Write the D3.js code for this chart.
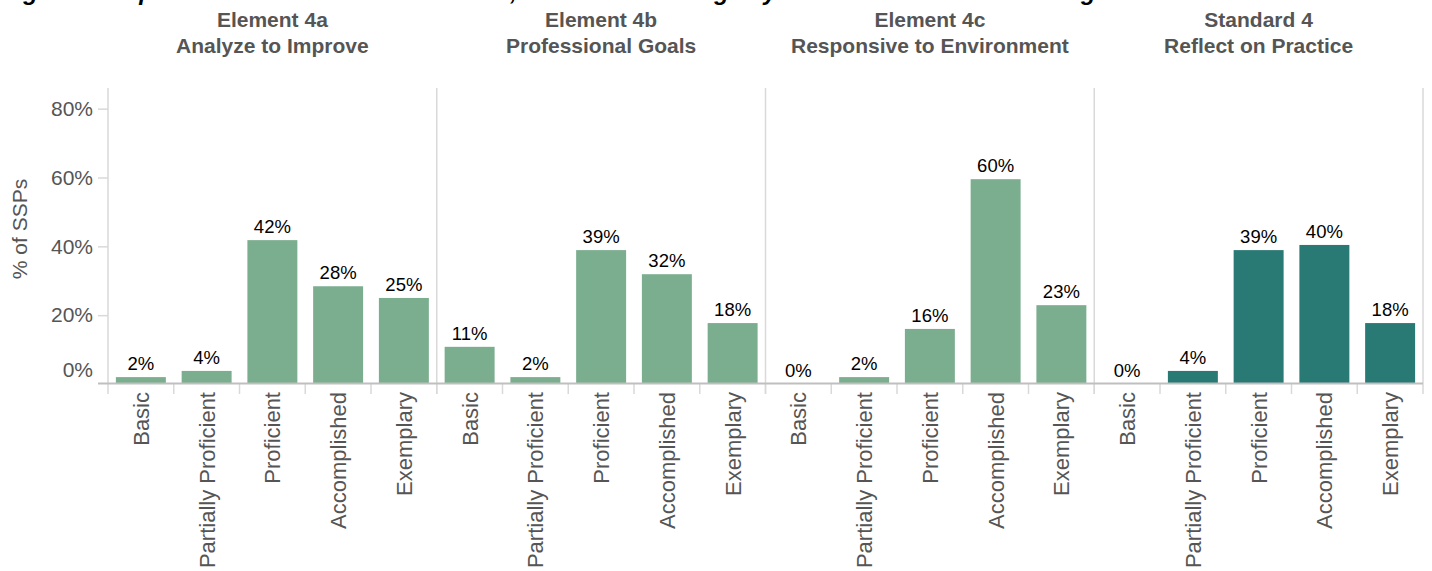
<!DOCTYPE html>
<html>
<head>
<meta charset="utf-8">
<script src="https://cdn.jsdelivr.net/npm/d3@7"></script>
<style>
  html, body { margin: 0; padding: 0; background: #fff; }
  svg { display: block; font-family: "Liberation Sans", Arial, sans-serif; }
</style>
</head>
<body>
<svg id="chart" width="1432" height="571"></svg>
<script>
// ---- Data ----
const chartTitle = "Figure 12: Specialized Service Professionals, Standard 4 Ratings by Element and Overall Rating";
const panelLine1 = ["Element 4a", "Element 4b", "Element 4c", "Standard 4"];
const panelLine2 = ["Analyze to Improve", "Professional Goals", "Responsive to Environment", "Reflect on Practice"];
const categories = ["Basic", "Partially Proficient", "Proficient", "Accomplished", "Exemplary"];
const values4a = [2.0, 3.8, 41.8, 28.4, 25.0];
const values4b = [10.8, 2.0, 38.9, 31.9, 17.7];
const values4c = [0.0, 2.0, 16.0, 59.5, 22.9];
const valuesStd4 = [0.0, 3.8, 38.9, 40.4, 17.7];
const panelValues = [values4a, values4b, values4c, valuesStd4];
const panelColors = ["#7bae8f", "#7bae8f", "#7bae8f", "#297975"];
const yTicks = [0, 20, 40, 60, 80];

// ---- Layout ----
const svg = d3.select("#chart");
const plotLeft = 108, plotRight = 1423, plotTop = 88, plotBottom = 384;
const gridColor = "#d9d9d9", axisColor = "#bfbfbf", textGray = "#555555";

const panelScale = d3.scaleBand()
  .domain(d3.range(panelLine1.length))
  .range([plotLeft, plotRight])
  .paddingInner(0).paddingOuter(0);
const pw = panelScale.bandwidth();

const y = d3.scaleLinear().domain([0, 86]).range([plotBottom, plotTop]);

// title (clipped by top edge in the reference)
svg.append("text")
  .attr("x", 2).attr("y", 0)
  .attr("font-size", 24).attr("font-weight", "bold").attr("font-style", "italic")
  .attr("fill", "#000")
  .text(chartTitle);

// Y axis
const yAxis = d3.axisLeft(y).tickValues(yTicks).tickFormat(d => d + "%").tickSize(10).tickPadding(5);
const gy = svg.append("g").attr("transform", `translate(${plotLeft},0)`).call(yAxis);
gy.select(".domain").remove();
gy.selectAll(".tick line").attr("stroke", gridColor).attr("stroke-width", 1.5);
gy.selectAll(".tick text").attr("font-size", 21).attr("fill", textGray)
  .attr("font-family", "Liberation Sans, Arial, sans-serif");
gy.selectAll(".tick").filter(d => d === 0).select("text").attr("dy", "-0.35em");
gy.selectAll(".tick").filter(d => d === 0).select("line").remove();

// Y title
svg.append("text")
  .attr("transform", `translate(27,${(plotTop + plotBottom) / 2 - 7}) rotate(-90)`)
  .attr("text-anchor", "middle")
  .attr("font-size", 21).attr("fill", textGray)
  .text("% of SSPs");

// panel dividers (left edges + right end)
const dividerXs = panelScale.domain().map(i => panelScale(i)).concat([plotRight]);
svg.append("g").selectAll("line").data(dividerXs).join("line")
  .attr("x1", d => d).attr("x2", d => d)
  .attr("y1", plotTop).attr("y2", plotBottom)
  .attr("stroke", gridColor).attr("stroke-width", 1.5);

// panels
panelValues.forEach((vals, pi) => {
  const x0 = panelScale(pi);
  const x = d3.scaleBand().domain(categories).range([x0, x0 + pw]).paddingInner(0.24).paddingOuter(0.12);
  const g = svg.append("g");

  // header
  const cx = x0 + pw / 2;
  g.append("text").attr("x", cx).attr("y", 27).attr("text-anchor", "middle")
    .attr("font-size", 21).attr("font-weight", "bold").attr("fill", textGray).text(panelLine1[pi]);
  g.append("text").attr("x", cx).attr("y", 53).attr("text-anchor", "middle")
    .attr("font-size", 21).attr("font-weight", "bold").attr("fill", textGray).text(panelLine2[pi]);

  // bars
  g.selectAll("rect").data(vals).join("rect")
    .attr("x", (d, i) => x(categories[i]))
    .attr("width", x.bandwidth())
    .attr("y", d => y(d))
    .attr("height", d => y(0) - y(d))
    .attr("fill", panelColors[pi]);

  // value labels
  g.selectAll("text.val").data(vals).join("text").attr("class", "val")
    .attr("x", (d, i) => x(categories[i]) + x.bandwidth() / 2)
    .attr("y", d => y(d) - 7)
    .attr("text-anchor", "middle")
    .attr("font-size", 18.5).attr("fill", "#000")
    .text(d => Math.round(d) + "%");

  // category ticks (at band boundaries)
  const bounds = d3.range(categories.length + 1).map(i => x0 + i * pw / categories.length);
  g.selectAll("line.tk").data(bounds).join("line").attr("class", "tk")
    .attr("x1", d => d).attr("x2", d => d)
    .attr("y1", plotBottom).attr("y2", plotBottom + 10)
    .attr("stroke", gridColor).attr("stroke-width", 1.5);

  // category labels
  g.selectAll("text.cat").data(categories).join("text").attr("class", "cat")
    .attr("transform", d => `translate(${x(d) + x.bandwidth() / 2 + 8},${plotBottom + 8}) rotate(-90)`)
    .attr("text-anchor", "end")
    .attr("font-size", 22).attr("fill", textGray)
    .text(d => d);
});

// x baseline
svg.append("line")
  .attr("x1", plotLeft - 10).attr("x2", plotRight)
  .attr("y1", plotBottom - 0.5).attr("y2", plotBottom - 0.5)
  .attr("stroke", axisColor).attr("stroke-width", 2);
</script>
</body>
</html>
